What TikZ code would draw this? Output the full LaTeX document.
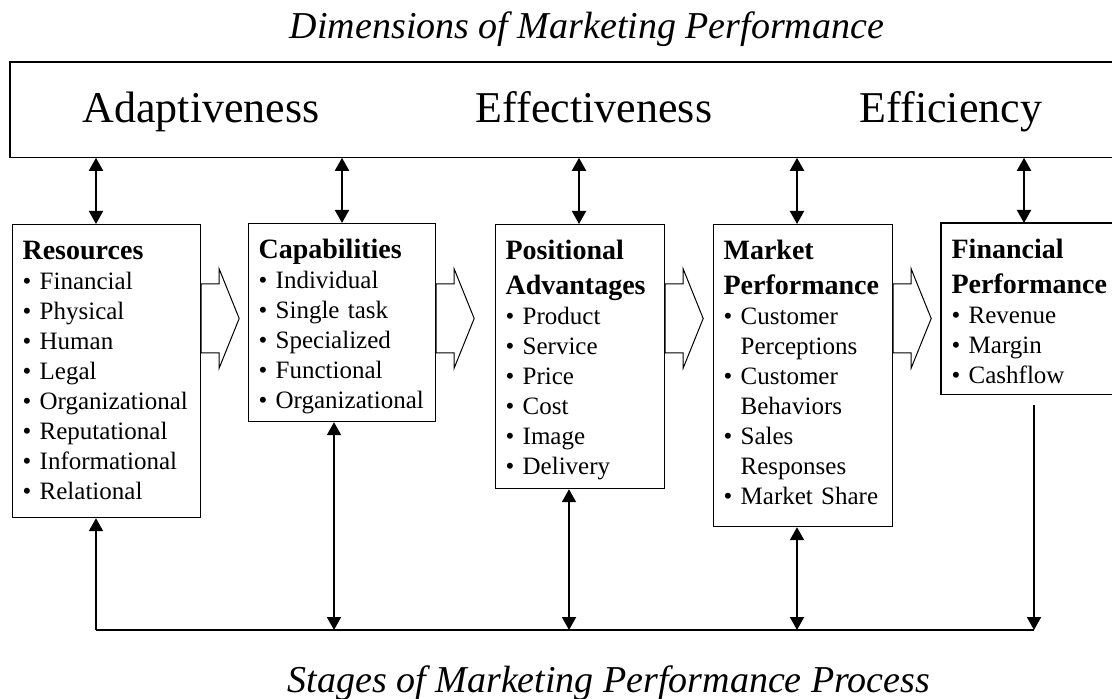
\documentclass[tikz,border=0pt]{standalone}
\usepackage{fontspec}
\setmainfont{Liberation Serif}
\usetikzlibrary{positioning,arrows.meta}
\tikzstyle{stage} = [draw, line width=0.6pt, anchor=north west, align=left, inner xsep=5pt, inner ysep=0pt, text height=17.5pt, font=\fontsize{12.5}{15}\selectfont]
\tikzstyle{dimlabel} = [anchor=base, inner sep=0pt, font=\fontsize{22}{26}\selectfont]
\tikzstyle{caption} = [anchor=base, inner sep=0pt, font=\itshape\fontsize{19}{23}\selectfont]
\tikzstyle{link} = [line width=1pt, {Triangle[length=6.5pt,width=7pt]}-{Triangle[length=6.5pt,width=7pt]}]
\tikzstyle{feed} = [line width=1pt, -{Triangle[length=6.5pt,width=7pt]}]
\tikzstyle{flowarrow} = [line width=0.5pt, line join=miter]
\tikzstyle{frame} = [line width=0.6pt]
\newcommand{\stagehead}{\bfseries\fontsize{14}{15}\selectfont}
\newcommand{\bul}{\textbullet\ }
\newcommand{\bulgap}{\phantom{\textbullet\ }}

\begin{document}
\begin{tikzpicture}[x=0.5pt,y=-0.5pt]
\useasboundingbox (0,0) rectangle (1112,699);
    % Dimensions box
    \node[caption] (dimtitle) at (587,39) {Dimensions of Marketing Performance};
    \node[anchor=north west, inner sep=0pt, minimum width=551pt, minimum height=47.5pt] (dims) at (10,62) {};
    \draw[frame] (dims.north east) -- (dims.north west) -- (dims.south west) -- (dims.south east);
    \node[dimlabel] (adapt) at (201,123) {Adaptiveness};
    \node[dimlabel] (effect) at (594,123) {Effectiveness};
    \node[dimlabel] (effic) at (951,123) {Efficiency};

    % Stages
    \node[stage, text width=84pt, text depth=129pt] (res) at (12,224)
        {{\stagehead Resources}\\ \bul Financial\\ \bul Physical\\ \bul Human\\ \bul Legal\\
         \bul Organizational\\ \bul Reputational\\ \bul Informational\\ \bul Relational};
    \node[stage, text width=83.5pt, text depth=81.5pt] (cap) at (248,223)
        {{\stagehead Capabilities}\\ \bul Individual\\ \bul Single task\\ \bul Specialized\\
         \bul Functional\\ \bul Organizational};
    \node[stage, text width=74.5pt, text depth=114.5pt] (pos) at (495,224)
        {{\stagehead Positional\\[2.5pt] Advantages}\\ \bul Product\\ \bul Service\\ \bul Price\\
         \bul Cost\\ \bul Image\\ \bul Delivery};
    \node[stage, text width=79.5pt, text depth=133.5pt] (mkt) at (713,224)
        {{\stagehead Market\\[2.5pt] Performance}\\ \bul Customer\\ \bulgap Perceptions\\
         \bul Customer\\ \bulgap Behaviors\\ \bul Sales\\ \bulgap Responses\\ \bul Market Share};
    \node[stage, draw=none, text width=76pt, text depth=67.5pt] (fin) at (941,223)
        {{\stagehead Financial\\[2.5pt] Performance}\\ \bul Revenue\\ \bul Margin\\ \bul Cashflow};
    \draw[frame] (fin.north east) -- (fin.north west) -- (fin.south west) -- (fin.south east);

    % Links to the dimensions
    \foreach \n/\x in {res/96, cap/342, pos/579, mkt/797, fin/1024}
        \draw[link] (\x,0 |- dims.south) -- (\x,0 |- \n.north);

    % Flow between stages
    \foreach \n in {res, cap, pos, mkt}
        \draw[flowarrow] (\n.east |- 0,284) -- ++(18,0) -- ++(0,-15) -- ++(20,49.5)
            -- ++(-20,49.5) -- ++(0,-15) -- ++(-18,0) -- cycle;

    % Feedback line
    \coordinate (base) at (0,630);
    \draw[line width=1pt] (96,0 |- base) -- (1034,0 |- base);
    \draw[feed] (96,0 |- base) -- (96,0 |- res.south);
    \foreach \n/\x in {cap/334, pos/569, mkt/797}
        \draw[link] (\x,0 |- \n.south) -- (\x,0 |- base);
    \draw[feed] (1034,0 |- fin.south) ++(0,11) -- (1034,0 |- base);
    \node[caption] (stagetitle) at (609,692) {Stages of Marketing Performance Process};
\end{tikzpicture}
\end{document}
